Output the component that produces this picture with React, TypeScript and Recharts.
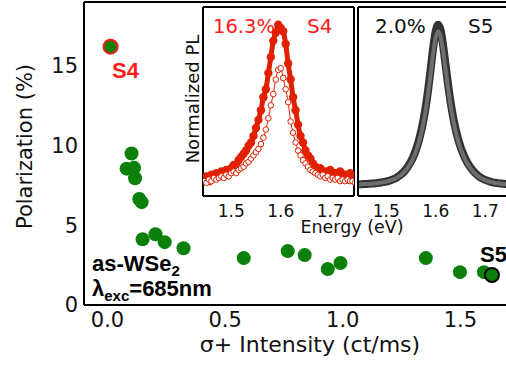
import React from "react";
import { ComposedChart, ScatterChart, Scatter, Line, XAxis, YAxis } from "recharts";

// main panel: polarization vs sigma+ intensity
const intensity = [0.013, 0.102, 0.081, 0.113, 0.117, 0.135, 0.145, 0.149, 0.204, 0.243, 0.323, 0.579, 0.766, 0.838, 0.936, 0.99, 1.353, 1.498, 1.6, 1.634];
const polarization = [16.2, 9.5, 8.55, 8.6, 7.95, 6.65, 6.45, 4.12, 4.44, 3.94, 3.56, 2.94, 3.38, 3.13, 2.25, 2.63, 2.94, 2.06, 2.06, 1.88];
const s4Index = 0;
const s5Index = 19;

const mainTicksX = [0, 0.5, 1.0, 1.5];
const mainTicksY = [0, 5, 10, 15];

// insets: normalized PL spectra
const energy = [
  1.445, 1.45, 1.455, 1.46, 1.465, 1.47, 1.475, 1.48, 1.485, 1.49,
  1.495, 1.5, 1.505, 1.51, 1.515, 1.52, 1.525, 1.53, 1.535, 1.54,
  1.545, 1.55, 1.555, 1.56, 1.565, 1.57, 1.575, 1.58, 1.585, 1.59,
  1.595, 1.6, 1.605, 1.61, 1.615, 1.62, 1.625, 1.63, 1.635, 1.64,
  1.645, 1.65, 1.655, 1.66, 1.665, 1.67, 1.675, 1.68, 1.685, 1.69,
  1.695, 1.7, 1.705, 1.71, 1.715, 1.72, 1.725, 1.73, 1.735, 1.74,
  1.745, 1.75,
];
const s4Plus = [
  0.04, 0.06, 0.03, 0.07, 0.05, 0.08, 0.06, 0.09, 0.07, 0.10,
  0.08, 0.11, 0.13, 0.12, 0.16, 0.18, 0.20, 0.22, 0.25, 0.27,
  0.31, 0.36, 0.41, 0.47, 0.55, 0.60, 0.70, 0.80, 0.90, 0.95,
  1.00, 0.98, 0.96, 0.88, 0.76, 0.66, 0.55, 0.47, 0.38, 0.31,
  0.27, 0.22, 0.19, 0.17, 0.14, 0.12, 0.10, 0.11, 0.08, 0.09,
  0.07, 0.10, 0.06, 0.08, 0.05, 0.09, 0.06, 0.07, 0.04, 0.08,
  0.05, 0.06,
];
const s4Minus = [
  0.03, 0.02, 0.04, 0.03, 0.05, 0.04, 0.05, 0.06, 0.05, 0.07,
  0.06, 0.08, 0.09, 0.08, 0.10, 0.11, 0.12, 0.14, 0.15, 0.17,
  0.19, 0.21, 0.23, 0.26, 0.30, 0.35, 0.42, 0.50, 0.57, 0.66,
  0.72, 0.73, 0.67, 0.60, 0.52, 0.40, 0.33, 0.27, 0.22, 0.19,
  0.16, 0.14, 0.12, 0.10, 0.09, 0.08, 0.07, 0.06, 0.07, 0.05,
  0.06, 0.04, 0.05, 0.04, 0.05, 0.03, 0.04, 0.03, 0.04, 0.03,
  0.03, 0.02,
];
const s5Plus = [
  0.010, 0.011, 0.012, 0.013, 0.014, 0.015, 0.016, 0.018, 0.020, 0.022,
  0.025, 0.028, 0.032, 0.037, 0.043, 0.050, 0.060, 0.072, 0.086, 0.104,
  0.126, 0.152, 0.184, 0.224, 0.272, 0.332, 0.405, 0.495, 0.605, 0.730,
  0.860, 0.960, 1.000, 0.965, 0.870, 0.748, 0.628, 0.520, 0.430, 0.355,
  0.294, 0.244, 0.203, 0.168, 0.140, 0.116, 0.096, 0.079, 0.065, 0.054,
  0.045, 0.038, 0.032, 0.027, 0.023, 0.020, 0.018, 0.016, 0.014, 0.013,
  0.012, 0.011,
];
const s5Minus = [
  0.010, 0.011, 0.012, 0.012, 0.013, 0.014, 0.015, 0.017, 0.019, 0.021,
  0.024, 0.027, 0.031, 0.036, 0.041, 0.048, 0.058, 0.069, 0.083, 0.100,
  0.121, 0.146, 0.177, 0.215, 0.261, 0.319, 0.389, 0.475, 0.581, 0.701,
  0.826, 0.922, 0.960, 0.926, 0.835, 0.718, 0.603, 0.499, 0.413, 0.341,
  0.282, 0.234, 0.195, 0.161, 0.134, 0.111, 0.092, 0.076, 0.062, 0.052,
  0.043, 0.036, 0.031, 0.026, 0.022, 0.019, 0.017, 0.015, 0.013, 0.012,
  0.011, 0.010,
];
const insetTicksX = [1.5, 1.6, 1.7];
const insetTicksY = [0, 0.25, 0.5, 0.75, 1];

const FONT = "'DejaVu Sans', sans-serif";
const BOLD = "'Liberation Sans', Arial, sans-serif";
const GREEN = "#0b800b";
const RED = "#e02000";

const mainPts = intensity.map((x, i) => ({ x, y: polarization[i] }));
const regular = mainPts.filter((_, i) => i !== s4Index && i !== s5Index);
const spectra = energy.map((e, i) => ({
  e,
  s4p: s4Plus[i],
  s4m: s4Minus[i],
  s5p: s5Plus[i],
  s5m: s5Minus[i],
}));

const dot = (r: number, fill: string, stroke = "none", sw = 0) => (p: any) => (
  <circle cx={p.cx} cy={p.cy} r={r} fill={fill} stroke={stroke} strokeWidth={sw} />
);

const tickLn = { stroke: "#999", strokeWidth: 1 };
// frame axes (default id, so they sit right on the plot edge): line + inward ticks, no labels
const frameAx = { tickSize: -6, stroke: "#000", strokeWidth: 2, tickLine: tickLn, tick: false, allowDataOverflow: true, type: "number" as const };
// label-only axes sit outside the frame axes
const labelAx = { tickSize: 0, axisLine: false, tickLine: false, allowDataOverflow: true, type: "number" as const };

const IN_X: [number, number] = [1.443, 1.748];
const IN_Y: [number, number] = [-0.062, 1.11];

function Inset({ which }: { which: "s4" | "s5" }) {
  return (
    <ComposedChart width={155} height={231} data={spectra} margin={{ top: 1, right: 1, bottom: 0, left: 1 }}>
      <XAxis dataKey="e" domain={IN_X} ticks={insetTicksX} height={1} {...frameAx} />
      <XAxis xAxisId="lab" dataKey="e" domain={IN_X} ticks={insetTicksX} height={39} tickMargin={8}
        tickFormatter={(v: number) => v.toFixed(1)} tick={{ fill: "#111", fontSize: 17, fontFamily: FONT }} {...labelAx} />
      <XAxis xAxisId="t" orientation="top" domain={IN_X} ticks={insetTicksX} height={1} {...frameAx} />
      <YAxis domain={IN_Y} ticks={insetTicksY} width={1} {...frameAx} />
      <YAxis yAxisId="r" orientation="right" domain={IN_Y} ticks={insetTicksY} width={1} {...frameAx} />
      {which === "s4" ? (
        <>
          <Line dataKey="s4p" type="monotone" stroke={RED} strokeWidth={5} dot={false} isAnimationActive={false} />
          <Scatter dataKey="s4p" shape={dot(4.2, RED)} isAnimationActive={false} />
          <Line dataKey="s4m" type="monotone" stroke={RED} strokeWidth={1} dot={false} isAnimationActive={false} />
          <Scatter dataKey="s4m" shape={dot(2.8, "#fff", RED, 1)} isAnimationActive={false} />
        </>
      ) : (
        <>
          <Line dataKey="s5p" type="monotone" stroke="#333" strokeWidth={8} dot={false} isAnimationActive={false} />
          <Line dataKey="s5m" type="monotone" stroke="#6e6e6e" strokeWidth={4} dot={false} isAnimationActive={false} />
        </>
      )}
    </ComposedChart>
  );
}

export default function App() {
  return (
    <div style={{ position: "absolute", left: 0, top: 0, width: 506, height: 366, overflow: "hidden", background: "#fff" }}>
      <ScatterChart width={540} height={366} margin={{ top: 1, right: 9, bottom: 0, left: 0 }}>
        <XAxis dataKey="x" domain={[-0.1, 1.8]} ticks={mainTicksX} height={1} {...frameAx} />
        <XAxis xAxisId="lab" dataKey="x" domain={[-0.1, 1.8]} ticks={mainTicksX} height={60} tickMargin={6}
          tickFormatter={(v: number) => v.toFixed(1)} tick={{ fill: "#111", fontSize: 21, fontFamily: FONT }} {...labelAx} />
        <XAxis xAxisId="t" orientation="top" domain={[-0.1, 1.8]} ticks={mainTicksX} height={1} {...frameAx} />
        <YAxis dataKey="y" domain={[0, 19]} ticks={mainTicksY} width={1} {...frameAx} />
        <YAxis yAxisId="lab" dataKey="y" domain={[0, 19]} ticks={mainTicksY} width={83} tickMargin={5}
          tick={{ fill: "#111", fontSize: 21, fontFamily: FONT }} {...labelAx} />
        <Scatter data={regular} shape={dot(7, GREEN)} isAnimationActive={false} />
        <Scatter data={[mainPts[s4Index]]} shape={dot(7, GREEN, "#ff1a1a", 2)} isAnimationActive={false} />
        <Scatter data={[mainPts[s5Index]]} shape={dot(7, GREEN, "#000", 2)} isAnimationActive={false} />
      </ScatterChart>

      <div style={{ position: "absolute", left: 201, top: 5, background: "#fff" }}>
        <Inset which="s4" />
      </div>
      <div style={{ position: "absolute", left: 356, top: 5, background: "#fff" }}>
        <Inset which="s5" />
      </div>

      <svg width={506} height={366} style={{ position: "absolute", left: 0, top: 0, pointerEvents: "none" }}>
        <g fontFamily={FONT} fill="#111">
          <text transform="translate(32,146.5) rotate(-90)" textAnchor="middle" fontSize={21}>Polarization (%)</text>
          <text x={310} y={352} textAnchor="middle" fontSize={22}>σ+ Intensity (ct/ms)</text>
          <text transform="translate(199,99) rotate(-90)" textAnchor="middle" fontSize={18}>Normalized  PL</text>
          <text x={352} y={233} textAnchor="middle" fontSize={17.5}>Energy (eV)</text>
          <text x={213} y={33} fontSize={19.5} fill="#ff1a1a">16.3%</text>
          <text x={307} y={33} fontSize={20} fill="#ff1a1a">S4</text>
          <text x={375} y={33} fontSize={20}>2.0%</text>
          <text x={468} y={33} fontSize={20}>S5</text>
        </g>
        <g fontFamily={BOLD} fontWeight="bold" fontSize={22}>
          <text x={112} y={78} fill="#ff1a1a">S4</text>
          <text x={480} y={262} fill="#000">S5</text>
          <text x={92} y={271} fill="#000">
            as-WSe<tspan fontSize={15} dy={5}>2</tspan>
          </text>
          <text x={92} y={296} fill="#000">
            λ<tspan fontSize={15} dy={5}>exc</tspan>
            <tspan dy={-5}>=685nm</tspan>
          </text>
        </g>
      </svg>
    </div>
  );
}
